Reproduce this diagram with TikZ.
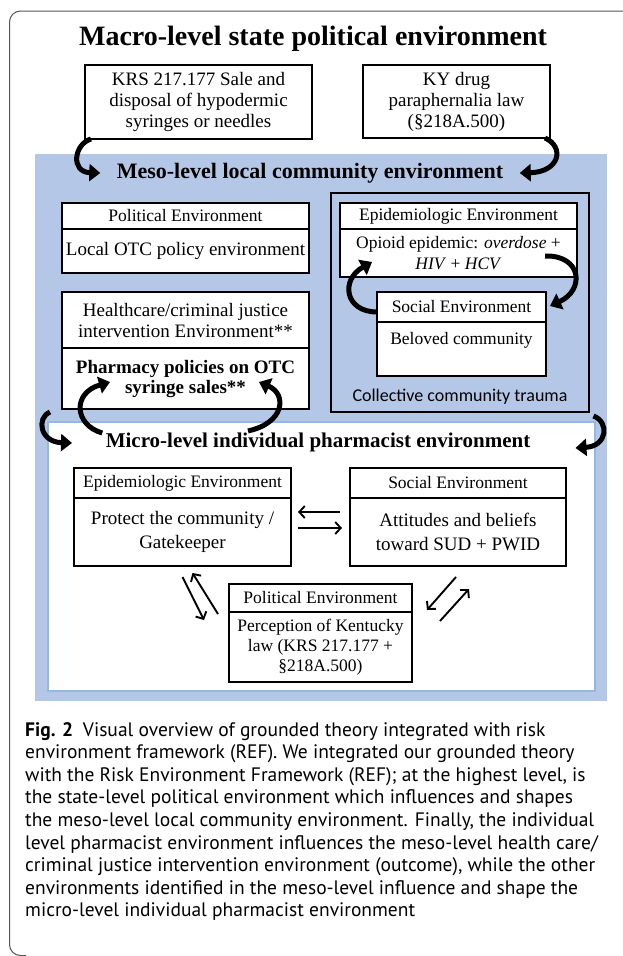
\documentclass[tikz,border=0pt]{standalone}
\usepackage{fontspec}
\setmainfont{Liberation Serif}
\newfontfamily\traumafont{Carlito}
\newfontfamily\captionfont{PT Sans}
\usetikzlibrary{positioning,arrows.meta}
\definecolor{mesoblue}{RGB}{180,199,231}
\definecolor{microline}{RGB}{148,184,226}
\definecolor{framegray}{RGB}{85,85,85}

\begin{document}
\begin{tikzpicture}[x=1pt, y=-1pt,
    boxpart/.style={draw, fill=white, line width=1.1pt, inner sep=2pt, outer sep=0pt, align=center},
    bigtext/.style={font=\fontsize{19}{21}\selectfont},
    hdrtext/.style={font=\fontsize{17.5}{21}\selectfont},
    leveltitle/.style={font=\bfseries\fontsize{#1}{#1}\selectfont},
    bentarrow/.style={line width=5pt, -{Triangle[width=17pt,length=11pt]}},
    pairarrow/.style={line width=1.9pt, -{Straight Barb[length=5.5pt,width=12pt]}}]
  \useasboundingbox (0,0) rectangle (623,956);
  \draw[framegray, line width=1pt, rounded corners=11pt] (26,955.5) -- (9.5,955.5) -- (9.5,11) -- (623,11);

  \node[leveltitle=28] (macro) at (313,39) {Macro-level state political environment};
  \node[boxpart, bigtext, anchor=north west, minimum width=227, minimum height=74] (krs) at (85,65) {KRS 217.177 Sale and\\disposal of hypodermic\\syringes or needles};
  \node[boxpart, bigtext, anchor=north west, minimum width=187, minimum height=73] (ky) at (363,65) {KY drug\\paraphernalia law\\(§218A.500)};

  \node[fill=mesoblue, anchor=north west, minimum width=572, minimum height=547, inner sep=0pt] (meso) at (35,154) {};
  \node[leveltitle=22] (mesotitle) at (310,173) {Meso-level local community environment};

  \node[boxpart, hdrtext, anchor=north west, minimum width=247, minimum height=26] (pol1hdr) at (62,203) {Political Environment};
  \node[boxpart, bigtext, minimum width=247, minimum height=44, below=0pt of pol1hdr] (pol1body) {Local OTC policy environment};

  \node[boxpart, bigtext, anchor=north west, minimum width=247, minimum height=56] (hchdr) at (62,292) {Healthcare/criminal justice\\intervention Environment**};
  \node[boxpart, font=\bfseries\fontsize{19}{20}\selectfont, minimum width=247, minimum height=61, below=0pt of hchdr] (hcbody) {Pharmacy policies on OTC\\syringe sales**};

  \node[draw, line width=1.1pt, anchor=north west, minimum width=258, minimum height=219, inner sep=0pt, outer sep=0pt] (trauma) at (331,193) {};
  \node[font=\traumafont\fontsize{18}{20}\selectfont, above=4pt of trauma.south] (traumatext) {Collective community trauma};
  \node[boxpart, hdrtext, anchor=north west, minimum width=237, minimum height=26] (epi1hdr) at (340,203) {Epidemiologic Environment};
  \node[boxpart, hdrtext, minimum width=237, minimum height=48, below=0pt of epi1hdr] (epi1body) {Opioid epidemic: \textit{overdose} +\\\textit{HIV} + \textit{HCV}};
  \node[boxpart, hdrtext, anchor=north west, minimum width=169, minimum height=30] (soc1hdr) at (377,292) {Social Environment};
  \node[boxpart, hdrtext, minimum width=169, minimum height=54, below=0pt of soc1hdr] (soc1body) {Beloved community\\~};

  \node[draw=microline, line width=1.5pt, fill=white, anchor=north west, minimum width=547, minimum height=269, inner sep=0pt] (micro) at (47,421) {};
  \node[leveltitle=21] (microtitle) at (318,442) {Micro-level individual pharmacist environment};

  \node[boxpart, hdrtext, anchor=north west, minimum width=217, minimum height=30] (epi2hdr) at (74,468) {Epidemiologic Environment};
  \node[boxpart, font=\fontsize{19}{24}\selectfont, minimum width=217, minimum height=68, below=0pt of epi2hdr] (epi2body) {Protect the community /\\Gatekeeper};
  \node[boxpart, hdrtext, anchor=north west, minimum width=216, minimum height=30] (soc2hdr) at (350,468) {Social Environment};
  \node[boxpart, font=\fontsize{19}{24}\selectfont, minimum width=216, minimum height=68, below=0pt of soc2hdr] (soc2body) {Attitudes and beliefs\\toward SUD + PWID};
  \node[boxpart, hdrtext, anchor=north west, minimum width=183, minimum height=28] (pol2hdr) at (229,584) {Political Environment};
  \node[boxpart, font=\fontsize{17.5}{20}\selectfont, minimum width=183, minimum height=70, below=0pt of pol2hdr] (pol2body) {Perception of Kentucky\\law (KRS 217.177 +\\§218A.500)};

  \draw[bentarrow] ([shift={(6,0)}]krs.south west) .. controls +(-17,5) and +(-30,-1) .. ([shift={(-13,0)}]mesotitle.west);
  \draw[bentarrow] ([shift={(-5,0)}]ky.south east) .. controls +(20,9) and +(40,-1) .. ([shift={(13,0)}]mesotitle.east);
  \draw[bentarrow] ([shift={(0,5)}]soc1hdr.west) .. controls +(-32,0) and +(-32,18) .. ([shift={(32,-15)}]epi1body.south west);
  \draw[bentarrow] ([shift={(-32,-21)}]epi1body.south east) .. controls +(37,-1) and +(35,-16) .. ([shift={(4,-1)}]soc1hdr.east);
  \draw[bentarrow] ([shift={(0,-9)}]microtitle.west) .. controls +(-28,-8) and +(-38,11) .. ([shift={(48,-27)}]hcbody.south west);
  \draw[bentarrow] ([shift={(-70,2)}]microtitle.north) .. controls +(37,-8) and +(28,12) .. ([shift={(-50,-27)}]hcbody.south east);
  \draw[bentarrow] ([shift={(3,-9)}]micro.north west) .. controls +(-14,6) and +(-32,-1) .. ([shift={(25,22)}]micro.north west);
  \draw[bentarrow] ([shift={(-2,-5)}]micro.north east) .. controls +(16,6) and +(32,-2) .. ([shift={(-20,27)}]micro.north east);

  \draw[pairarrow] ([shift={(-10,-20)}]soc2body.west) -- ([shift={(7,-20)}]epi2body.east);
  \draw[pairarrow] ([shift={(7,-4)}]epi2body.east) -- ([shift={(-8,-4)}]soc2body.west);
  \draw[pairarrow] ([shift={(0,11)}]epi2body.south) -- ([shift={(-25,22)}]pol2hdr.west);
  \draw[pairarrow] ([shift={(-11,16)}]pol2hdr.west) -- ([shift={(10,7)}]epi2body.south);
  \draw[pairarrow] ([shift={(-2,11)}]soc2body.south) -- ([shift={(15,12)}]pol2hdr.east);
  \draw[pairarrow] ([shift={(28,23)}]pol2hdr.east) -- ([shift={(11,23)}]soc2body.south);

  \node[anchor=north west, align=left, inner sep=0pt, font=\captionfont\fontsize{19.5}{22.6}\selectfont] (caption) at (25,722) {\textbf{Fig. 2}\enspace Visual overview of grounded theory integrated with risk\\environment framework (REF). We integrated our grounded theory\\with the Risk Environment Framework (REF); at the highest level, is\\the state-level political environment which influences and shapes\\the meso-level local community environment. Finally, the individual\\level pharmacist environment influences the meso-level health care/\\criminal justice intervention environment (outcome), while the other\\environments identified in the meso-level influence and shape the\\micro-level individual pharmacist environment};
\end{tikzpicture}
\end{document}
